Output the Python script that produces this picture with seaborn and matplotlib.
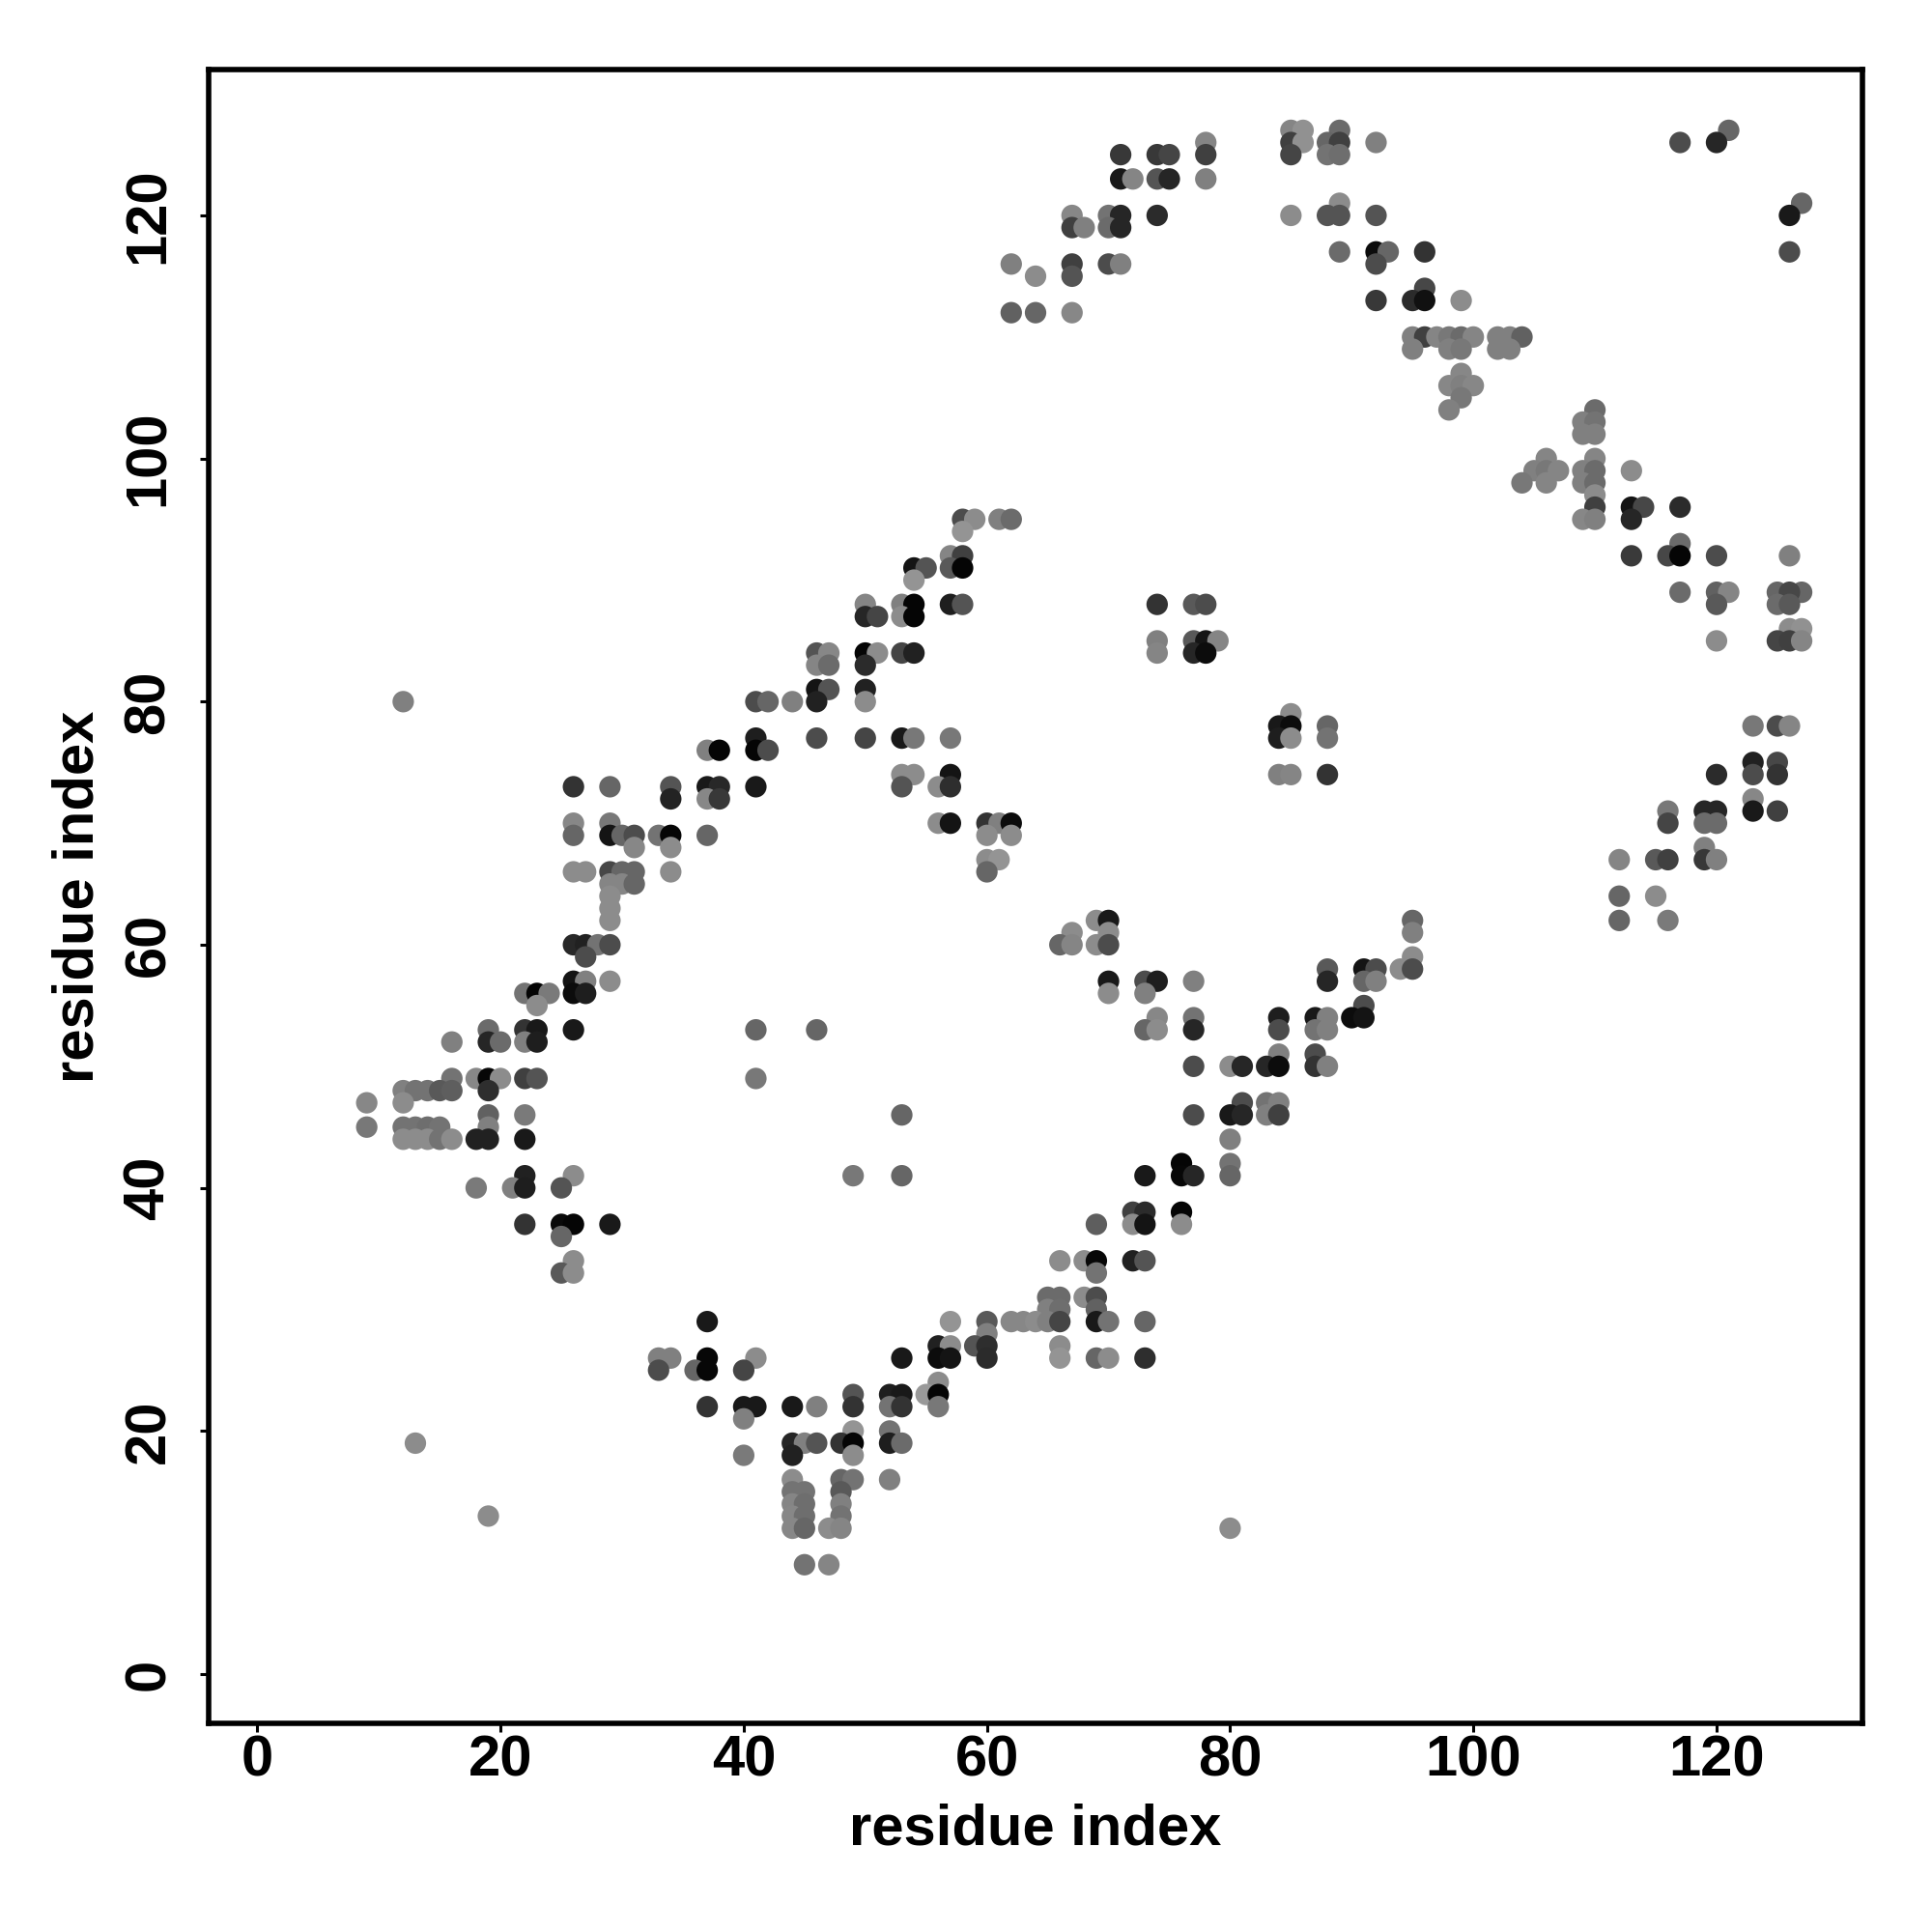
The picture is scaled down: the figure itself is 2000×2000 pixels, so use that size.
import matplotlib
matplotlib.use("Agg")
import matplotlib.pyplot as plt
import pandas as pd
import seaborn as sns

tick_values = [0, 20, 40, 60, 80, 100, 120]
axis_label = "residue index"

# one entry per row of the contact map: y, then x positions and grey levels
row_y = [127, 126, 125, 123, 121, 120, 119, 117, 116, 115, 114, 113, 112,
         110, 109, 107, 106, 105, 104, 103, 102, 100, 99, 98, 97, 96, 95,
         94, 93, 92, 91, 90, 89, 88, 87, 86, 85, 84, 83, 81, 80, 79, 78,
         77, 76, 75, 74, 73, 72, 71, 70, 69, 68, 67, 66, 65, 64, 63, 62,
         61, 60, 59, 58, 57, 56, 55, 54, 53, 52, 51, 50, 49, 48, 47, 46,
         45, 44, 42, 41, 40, 38, 37, 36, 34, 33, 31, 30, 29, 28, 27, 26,
         25, 24, 23, 22, 21, 20, 19, 18, 16, 15, 14, 13, 12, 9]
row_x = [
    [85, 86, 89, 121],
    [78, 85, 86, 88, 89, 92, 117, 120],
    [71, 74, 75, 78, 85, 88, 89],
    [71, 72, 74, 75, 78],
    [89, 127],
    [67, 70, 71, 74, 85, 88, 89, 92, 126],
    [67, 68, 70, 71],
    [89, 92, 93, 96, 126],
    [62, 67, 70, 71, 92],
    [64, 67],
    [96],
    [92, 95, 96, 99],
    [62, 64, 67],
    [95, 96, 97, 98, 99, 100, 102, 103, 104],
    [95, 98, 99, 102, 103],
    [99],
    [98, 99, 100],
    [99],
    [98, 110],
    [109, 110],
    [109, 110],
    [106, 110],
    [105, 106, 107, 109, 110, 113],
    [104, 106, 109, 110],
    [110],
    [110, 113, 114, 117],
    [58, 59, 61, 62, 109, 110, 113],
    [58],
    [117],
    [57, 58, 113, 116, 117, 120, 126],
    [54, 55, 57, 58],
    [54],
    [117, 120, 121, 125, 127, 126],
    [50, 53, 54, 57, 58, 74, 77, 78, 120, 125, 126],
    [50, 51, 53, 54],
    [126, 127],
    [74, 77, 78, 79, 120, 125, 126, 127],
    [46, 47, 50, 51, 53, 54, 74, 77, 78],
    [46, 47, 50],
    [46, 47, 50],
    [12, 41, 42, 44, 46, 50],
    [85],
    [84, 85, 88, 123, 125, 126],
    [41, 46, 50, 53, 54, 57, 84, 85, 88],
    [37, 38, 41, 42],
    [123, 125],
    [53, 54, 57, 84, 85, 88, 120, 123, 125],
    [26, 29, 34, 37, 38, 41, 53, 56, 57],
    [34, 37, 38, 123],
    [116, 119, 120, 123, 125],
    [26, 29, 56, 57, 60, 61, 62, 116, 119, 120],
    [26, 29, 30, 31, 33, 34, 37, 60, 62],
    [31, 34, 119],
    [60, 61, 112, 115, 116, 119, 120],
    [26, 27, 29, 30, 31, 34, 60],
    [29, 30, 31],
    [29, 112, 115],
    [29],
    [29, 69, 70, 95, 112, 116],
    [67, 70, 95],
    [26, 27, 28, 29, 66, 67, 69, 70],
    [27, 95],
    [88, 91, 92, 94, 95],
    [26, 27, 29, 70, 73, 74, 77, 88, 91, 92],
    [22, 23, 24, 26, 27, 70, 73],
    [23, 91],
    [74, 77, 84, 87, 88, 90, 91],
    [19, 22, 23, 26, 41, 46, 73, 74, 77, 84, 87, 88],
    [16, 19, 20, 22, 23],
    [84, 87],
    [77, 80, 81, 83, 84, 87, 88],
    [16, 18, 19, 20, 22, 23, 41],
    [12, 13, 14, 15, 16, 19],
    [9, 12, 81, 83, 84],
    [19, 22, 53, 77, 80, 81, 83, 84],
    [9, 12, 13, 14, 15, 19],
    [12, 13, 14, 15, 16, 18, 19, 22, 80],
    [76, 80],
    [22, 26, 49, 53, 73, 76, 77, 80],
    [18, 21, 22, 25],
    [72, 73, 76],
    [22, 25, 26, 29, 69, 72, 73, 76],
    [25],
    [26, 66, 68, 69, 72, 73],
    [25, 26, 69],
    [65, 66, 68, 69],
    [65, 66, 69],
    [37, 57, 60, 62, 63, 64, 65, 66, 69, 70, 73],
    [60],
    [56, 57, 59, 60, 66],
    [33, 34, 37, 41, 53, 56, 57, 60, 66, 69, 70, 73],
    [33, 36, 37, 40],
    [56],
    [49, 52, 53, 55, 56],
    [37, 40, 41, 44, 46, 49, 52, 53, 56],
    [40],
    [49, 52],
    [13, 44, 45, 46, 48, 49, 52, 53],
    [40, 44, 49],
    [44, 48, 49, 52],
    [44, 45, 48],
    [44, 45, 48],
    [19, 44, 45, 48],
    [44, 45, 47, 48, 80],
    [45, 47],
]
row_shade = [
    [.52, .57, .42, .40],
    [.52, .25, .57, .40, .25, .50, .30, .15],
    [.22, .22, .27, .25, .27, .45, .43],
    [.10, .52, .33, .15, .50],
    [.55, .40],
    [.53, .45, .15, .17, .55, .33, .33, .33, .10],
    [.25, .50, .42, .15],
    [.42, .05, .40, .20, .30],
    [.50, .25, .30, .50, .30],
    [.55, .33],
    [.28],
    [.22, .17, .07, .55],
    [.38, .40, .53],
    [.50, .25, .52, .47, .42, .52, .50, .50, .38],
    [.50, .50, .47, .50, .50],
    [.53],
    [.53, .50, .53],
    [.47],
    [.50, .42],
    [.50, .45],
    [.50, .50],
    [.52, .52],
    [.50, .47, .52, .50, .42, .55],
    [.47, .52, .50, .42],
    [.55],
    [.25, .08, .28, .17],
    [.30, .55, .50, .42, .53, .50, .15],
    [.58],
    [.42],
    [.52, .25, .23, .28, .02, .30, .50],
    [.08, .33, .35, .02],
    [.58],
    [.42, .38, .52, .40, .40, .28],
    [.52, .50, .02, .12, .33, .20, .35, .30, .35, .42, .35],
    [.15, .27, .55, .02],
    [.55, .57],
    [.50, .35, .08, .52, .55, .27, .25, .52],
    [.33, .53, .02, .55, .27, .13, .52, .15, .05],
    [.52, .42, .17],
    [.08, .33, .13],
    [.50, .30, .40, .50, .13, .55],
    [.55],
    [.10, .05, .40, .47, .30, .52],
    [.12, .30, .27, .10, .47, .47, .12, .55, .45],
    [.50, .02, .02, .30],
    [.13, .28],
    [.55, .55, .08, .50, .52, .20, .17, .30, .20],
    [.20, .40, .33, .10, .16, .10, .33, .55, .18],
    [.14, .53, .22, .53],
    [.47, .15, .15, .10, .25],
    [.53, .47, .55, .08, .20, .50, .05, .27, .42, .42],
    [.40, .08, .40, .30, .45, .02, .40, .55, .55],
    [.53, .55, .50],
    [.55, .58, .52, .35, .25, .22, .50],
    [.55, .55, .28, .40, .40, .55, .40],
    [.52, .52, .40],
    [.55, .40, .55],
    [.55],
    [.55, .55, .10, .40, .40, .48],
    [.55, .55, .50],
    [.16, .13, .45, .30, .40, .52, .55, .30],
    [.30, .55],
    [.35, .08, .30, .55, .30],
    [.08, .50, .55, .10, .30, .12, .50, .15, .40, .50],
    [.45, .02, .48, .05, .12, .55, .50],
    [.55, .30],
    [.53, .45, .12, .10, .50, .05, .08],
    [.42, .20, .10, .10, .40, .40, .40, .55, .15, .30, .45, .50],
    [.50, .15, .42, .50, .12],
    [.50, .30],
    [.30, .55, .15, .15, .05, .20, .50],
    [.45, .53, .03, .55, .25, .33, .47],
    [.50, .45, .45, .35, .37, .18],
    [.53, .55, .30, .45, .50],
    [.38, .48, .40, .30, .10, .15, .50, .25],
    [.47, .45, .45, .43, .45, .50],
    [.55, .55, .55, .45, .55, .13, .13, .10, .50],
    [.02, .45],
    [.13, .55, .47, .40, .10, .03, .15, .40],
    [.48, .50, .12, .33],
    [.25, .17, .02],
    [.20, .04, .02, .10, .37, .55, .08, .55],
    [.40],
    [.55, .55, .55, .03, .13, .33],
    [.35, .55, .45],
    [.42, .42, .55, .30],
    [.50, .43, .38],
    [.10, .58, .35, .53, .53, .55, .50, .27, .10, .45, .40],
    [.50],
    [.13, .55, .33, .18, .55],
    [.50, .50, .03, .55, .10, .05, .08, .17, .58, .40, .55, .18],
    [.30, .40, .03, .27],
    [.55],
    [.33, .12, .10, .60, .02],
    [.20, .10, .10, .10, .50, .20, .45, .20, .47],
    [.50],
    [.58, .45],
    [.55, .15, .50, .33, .20, .02, .12, .42],
    [.48, .13, .55],
    [.55, .40, .45, .50],
    [.45, .45, .35],
    [.52, .43, .50],
    [.55, .53, .43, .45],
    [.53, .40, .55, .52, .55],
    [.45, .52],
]

df = pd.DataFrame(
    [
        {"x": x, "y": y, "shade": s}
        for y, xs, ss in zip(row_y, row_x, row_shade)
        for x, s in zip(xs, ss)
    ]
)

plt.rcParams["font.family"] = ["Liberation Sans", "DejaVu Sans"]
plt.rcParams["font.weight"] = "bold"

fig = plt.figure(figsize=(10, 10), dpi=200, facecolor="white")
ax = fig.add_axes([0.108, 0.108, 0.856, 0.856])

sns.scatterplot(
    data=df, x="x", y="y", hue="shade", hue_norm=(0, 1), palette="gray",
    s=64, linewidth=0, legend=False, ax=ax,
)

ax.set_xlim(-4.0, 132.0)
ax.set_ylim(-4.05, 132.0)
ax.set_xticks(tick_values)
ax.set_yticks(tick_values)
ax.tick_params(length=3.2, width=1.1, labelsize=21.5)
ax.tick_params(axis="x", pad=1)
ax.tick_params(axis="y", pad=9)
plt.setp(ax.get_yticklabels(), rotation=90, va="center")
ax.set_xlabel(axis_label, fontsize=21.5, fontweight="bold", labelpad=5.7)
ax.set_ylabel(axis_label, fontsize=21.5, fontweight="bold", labelpad=6.7)
for spine in ax.spines.values():
    spine.set_linewidth(2.0)

plt.savefig("out.png", dpi=200)
plt.close(fig)
